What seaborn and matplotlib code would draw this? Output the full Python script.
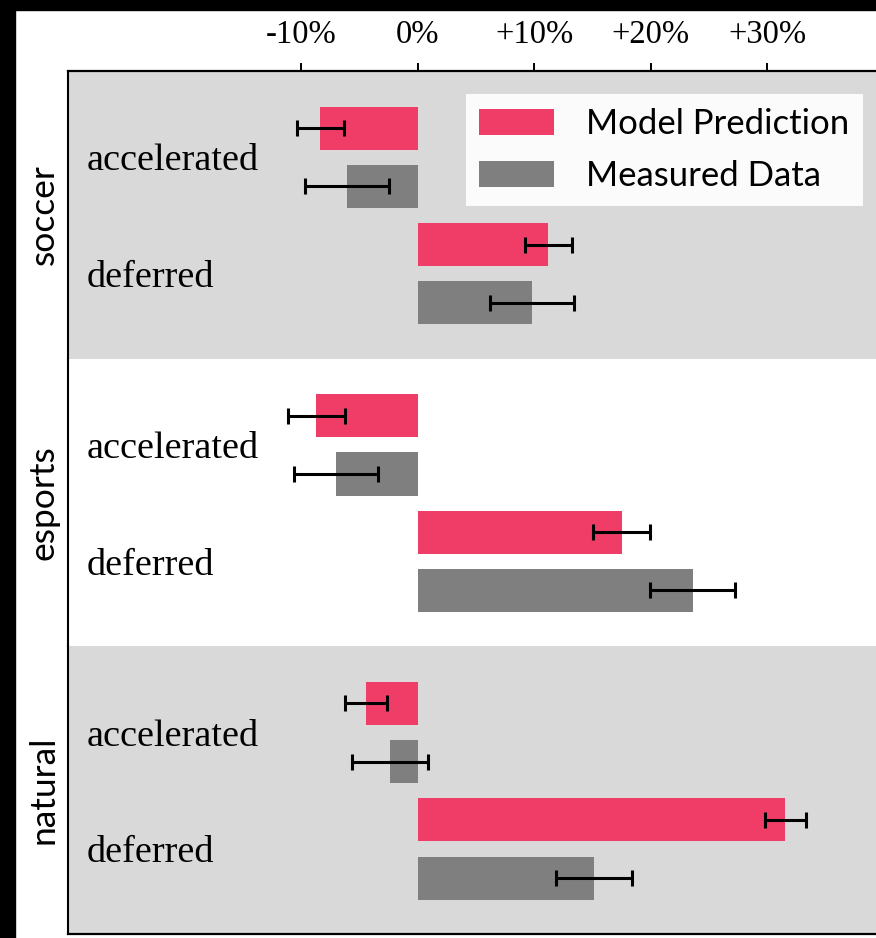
import matplotlib
matplotlib.use("Agg")
import matplotlib.pyplot as plt
from matplotlib.patches import Rectangle
from matplotlib.ticker import FuncFormatter
import numpy as np
import pandas as pd
import seaborn as sns

# Relative change (%) by content type and timing strategy
sports = ["soccer", "esports", "natural"]
timings = ["accelerated", "deferred"]
series = ["Model Prediction", "Measured Data"]

model_pred = [-8.35, 11.2, -8.7, 17.5, -4.4, 31.55]
model_err = [2.0, 2.0, 2.45, 2.45, 1.8, 1.8]
measured = [-6.1, 9.8, -7.0, 23.6, -2.4, 15.1]
measured_err = [3.6, 3.6, 3.6, 3.65, 3.25, 3.25]

x_ticks = [-10, 0, 10, 20, 30]

rows = []
for i, sport in enumerate(sports):
    for j, timing in enumerate(timings):
        k = 2 * i + j
        rows.append((sport, timing, series[0], model_pred[k], model_err[k]))
        rows.append((sport, timing, series[1], measured[k], measured_err[k]))
df = pd.DataFrame(rows, columns=["sport", "timing", "series", "change", "err"])

sns.set_theme(style="white")
serif = ["Liberation Serif", "DejaVu Serif"]
sans = ["Lato", "DejaVu Sans"]
plt.rcParams["font.family"] = serif
plt.rcParams["text.color"] = "black"
plt.rcParams["axes.labelcolor"] = "black"
plt.rcParams["xtick.color"] = "black"
plt.rcParams["ytick.color"] = "black"

palette = {series[0]: "#EF3D67", series[1]: "#7F7F7F"}
band_colors = ["#D9D9D9", "#FFFFFF", "#D9D9D9"]

W, H = 876, 938
fig = plt.figure(figsize=(W / 100, H / 100), dpi=100)
fig.patch.set_facecolor("white")

left_px, right_px, top_px, bottom_px = 68, 884, 71, 934
gs = fig.add_gridspec(
    3, 1,
    left=left_px / W, right=right_px / W,
    top=1 - top_px / H, bottom=1 - bottom_px / H,
    hspace=0,
)
axes = [fig.add_subplot(gs[i]) for i in range(3)]
for ax in axes[1:]:
    ax.sharex(axes[0])

for i, (ax, sport) in enumerate(zip(axes, sports)):
    sub = df[df["sport"] == sport]
    sns.barplot(
        data=sub, x="change", y="timing", hue="series",
        order=timings, hue_order=series, palette=palette,
        orient="h", width=1.0, gap=0.26, errorbar=None,
        saturation=1, linewidth=0, legend=(i == 0), ax=ax,
    )
    # error bars centred on each bar end
    for level, cont in zip(series, ax.containers):
        vals = sub[sub["series"] == level].set_index("timing").loc[timings]
        ys = [b.get_y() + b.get_height() / 2 for b in cont]
        ax.errorbar(
            vals["change"].values, ys, xerr=vals["err"].values,
            fmt="none", ecolor="black", elinewidth=2.2,
            capsize=5.6, capthick=2.2, zorder=5,
        )
    ax.set_facecolor(band_colors[i])
    ax.set_ylim(1.73, -0.74)
    ax.set_xlim(-30, 40)
    ax.set_xlabel("")
    ax.set_ylabel(sport, fontsize=25.5, family=sans, labelpad=6)
    ax.tick_params(axis="y", length=0, pad=-13.7, labelsize=27.5,
                   labelcolor="black")
    for lbl in ax.get_yticklabels():
        lbl.set_horizontalalignment("left")
    for side in ["top", "bottom", "left", "right"]:
        ax.spines[side].set_visible(False)
    ax.spines["left"].set_visible(True)
    ax.spines["left"].set_color("black")
    ax.spines["left"].set_linewidth(1.5)

top_ax, bot_ax = axes[0], axes[-1]
for ax in axes:
    ax.tick_params(axis="x", which="both", bottom=False, top=False,
                   labelbottom=False, labeltop=False)
top_ax.spines["top"].set_visible(True)
top_ax.spines["top"].set_color("black")
top_ax.spines["top"].set_linewidth(1.6)
bot_ax.spines["bottom"].set_visible(True)
bot_ax.spines["bottom"].set_color("black")
bot_ax.spines["bottom"].set_linewidth(1.6)

top_ax.set_xticks(x_ticks)
top_ax.xaxis.set_major_formatter(
    FuncFormatter(lambda v, _: f"{v:+.0f}%" if v > 0 else f"{v:.0f}%")
)
top_ax.tick_params(axis="x", top=True, labeltop=True, direction="out",
                   length=6, width=1.4, color="black", pad=9, labelsize=23.5,
                   labelcolor="black")
for lbl in top_ax.get_xticklabels():
    lbl.set_family(serif)

sns.move_legend(
    top_ax, "upper right", bbox_to_anchor=(0.974, 0.92), borderaxespad=0,
    title=None, frameon=True, fancybox=False, framealpha=0.92,
    edgecolor="none", facecolor="white",
    prop={"family": sans, "size": 25},
    handlelength=2.16, handleheight=0.75, handletextpad=0.9,
    labelspacing=0.58, borderpad=0.4,
)

# dark frame along the top and left edges
fig.patches.append(Rectangle((0, 0), 15 / W, 1, transform=fig.transFigure,
                             color="black", zorder=10))
fig.patches.append(Rectangle((0, 1 - 10 / H), 1, 10 / H, transform=fig.transFigure,
                             color="black", zorder=10))

fig.savefig("out.png", dpi=100, facecolor=fig.get_facecolor())
